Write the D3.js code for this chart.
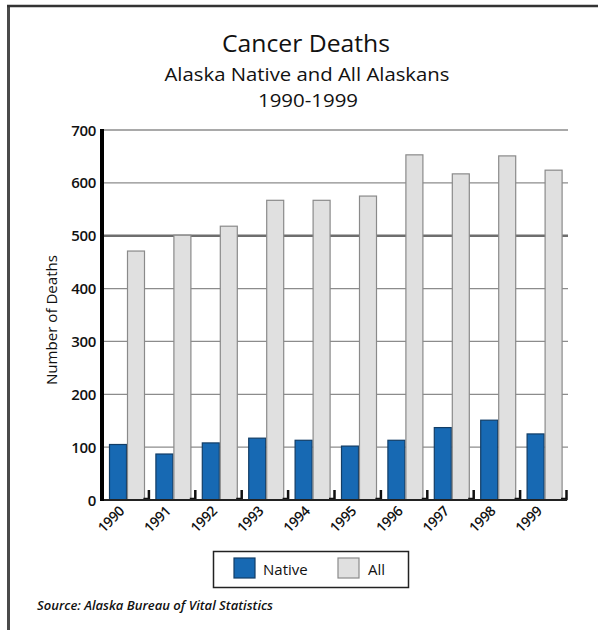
<!DOCTYPE html>
<html>
<head>
<meta charset="utf-8">
<script src="https://cdn.jsdelivr.net/npm/d3@7"></script>
<style>
  html, body { margin: 0; padding: 0; background: #fff; }
  svg { display: block; font-family: "Open Sans", "Noto Sans", sans-serif; }
</style>
</head>
<body>
<svg id="chart" width="598" height="630"></svg>
<script>
// Cancer deaths, Alaska Native vs. all Alaskans, 1990-1999
const years = ["1990", "1991", "1992", "1993", "1994", "1995", "1996", "1997", "1998", "1999"];
const nativeDeaths = [105, 87, 108, 117, 113, 102, 113, 137, 151, 125];
const allDeaths = [471, 501, 518, 567, 567, 575, 653, 617, 651, 624];
const seriesNames = ["Native", "All"];
const yTicks = [0, 100, 200, 300, 400, 500, 600, 700];

const colors = { Native: "#1769b3", All: "#e0e0e0" };
const strokes = { Native: "#123d66", All: "#8a8a8a" };

const svg = d3.select("#chart");

// page frame (left and top rules)
svg.append("line").attr("x1", 8.5).attr("x2", 8.5).attr("y1", 5).attr("y2", 630)
  .attr("stroke", "#4a4a4a").attr("stroke-width", 3);
svg.append("line").attr("x1", 7).attr("x2", 598).attr("y1", 6).attr("y2", 6)
  .attr("stroke", "#333").attr("stroke-width", 2.5);

// titles
svg.append("text").attr("x", 306).attr("y", 52).attr("text-anchor", "middle")
  .attr("font-size", 24.5).attr("fill", "#111")
  .attr("textLength", 168).attr("lengthAdjust", "spacingAndGlyphs").text("Cancer Deaths");
svg.append("text").attr("x", 307).attr("y", 81).attr("text-anchor", "middle")
  .attr("font-size", 19).attr("fill", "#111")
  .attr("textLength", 285).attr("lengthAdjust", "spacingAndGlyphs").text("Alaska Native and All Alaskans");
svg.append("text").attr("x", 308).attr("y", 107).attr("text-anchor", "middle")
  .attr("font-size", 19).attr("fill", "#111")
  .attr("textLength", 100).attr("lengthAdjust", "spacingAndGlyphs").text("1990-1999");

const plotLeft = 102, plotRight = 566, plotTop = 130, plotBottom = 500;

const x = d3.scaleBand().domain(years).range([plotLeft, plotRight]).paddingInner(0).paddingOuter(0);
const xs = d3.scaleBand().domain(seriesNames).range([7, 43]).paddingInner(0);
const y = d3.scaleLinear().domain([0, 700]).range([plotBottom, plotTop]);

// horizontal gridlines
svg.append("g").selectAll("line").data(yTicks.filter(t => t > 0)).join("line")
  .attr("x1", plotLeft).attr("x2", plotRight + 2)
  .attr("y1", d => y(d)).attr("y2", d => y(d))
  .attr("stroke", d => d === 500 ? "#6e6e6e" : "#8c8c8c")
  .attr("stroke-width", d => d === 500 ? 2.5 : 1.3);

// y tick labels
svg.append("g").selectAll("text").data(yTicks).join("text")
  .attr("x", 96).attr("y", d => y(d) + 5.5)
  .attr("text-anchor", "end").attr("font-size", 15).attr("font-weight", 600)
  .attr("letter-spacing", -0.3)
  .attr("fill", "#111").text(d => d);

// y axis title
svg.append("text")
  .attr("transform", `translate(57,${(plotTop + plotBottom) / 2 + 5}) rotate(-90)`)
  .attr("text-anchor", "middle").attr("font-size", 14).attr("fill", "#111")
  .attr("textLength", 130).attr("lengthAdjust", "spacingAndGlyphs")
  .text("Number of Deaths");

// bars
const groups = svg.append("g").selectAll("g").data(years).join("g")
  .attr("transform", d => `translate(${x(d)},0)`);

groups.each(function (yr, i) {
  const vals = { Native: nativeDeaths[i], All: allDeaths[i] };
  d3.select(this).selectAll("rect").data(seriesNames).join("rect")
    .attr("x", s => xs(s) + 0.5)
    .attr("width", xs.bandwidth() - 1)
    .attr("y", s => y(vals[s]))
    .attr("height", s => plotBottom - y(vals[s]))
    .attr("fill", s => colors[s])
    .attr("stroke", s => strokes[s])
    .attr("stroke-width", 1.2);
});

// category boundary ticks
const boundaries = years.slice(1).map(d => x(d)).concat([plotRight]);
svg.append("g").selectAll("path").data(boundaries).join("path")
  .attr("d", d => `M${d - 5},${plotBottom - 1} H${d + 1.5} M${d + 0.5},${plotBottom} V${plotBottom - 10}`)
  .attr("stroke", "#111").attr("stroke-width", 2.5).attr("fill", "none");

// x axis line
svg.append("line").attr("x1", plotLeft).attr("x2", plotRight + 1)
  .attr("y1", plotBottom).attr("y2", plotBottom)
  .attr("stroke", "#222").attr("stroke-width", 2);

// y axis line
svg.append("line").attr("x1", plotLeft).attr("x2", plotLeft)
  .attr("y1", plotTop - 1).attr("y2", plotBottom + 1)
  .attr("stroke", "#000").attr("stroke-width", 4);

// x tick labels
svg.append("g").selectAll("text").data(years).join("text")
  .attr("transform", d => `translate(${x(d) + x.bandwidth() / 2},${plotBottom + 12}) rotate(-45)`)
  .attr("text-anchor", "end").attr("font-size", 14).attr("font-weight", 600)
  .attr("letter-spacing", -0.4)
  .attr("fill", "#111").text(d => d);

// legend
const legend = svg.append("g");
legend.append("rect").attr("x", 213.5).attr("y", 551.5).attr("width", 195).attr("height", 36)
  .attr("fill", "#fff").attr("stroke", "#222").attr("stroke-width", 1.5);
const legendItems = [
  { name: "Native", sx: 234, tx: 263 },
  { name: "All", sx: 338, tx: 368 }
];
legend.selectAll("rect.sw").data(legendItems).join("rect").attr("class", "sw")
  .attr("x", d => d.sx).attr("y", 558).attr("width", 21).attr("height", 20)
  .attr("fill", d => colors[d.name]).attr("stroke", d => strokes[d.name]).attr("stroke-width", 1.2);
legend.selectAll("text").data(legendItems).join("text")
  .attr("x", d => d.tx).attr("y", 575).attr("font-size", 15).attr("fill", "#111")
  .text(d => d.name);

// source note
svg.append("text").attr("x", 37).attr("y", 610)
  .attr("font-family", "'Liberation Sans Narrow', 'Open Sans', sans-serif")
  .attr("font-style", "italic").attr("font-weight", 600).attr("font-size", 13).attr("fill", "#111")
  .attr("textLength", 236).attr("lengthAdjust", "spacingAndGlyphs")
  .text("Source: Alaska Bureau of Vital Statistics");
</script>
</body>
</html>
